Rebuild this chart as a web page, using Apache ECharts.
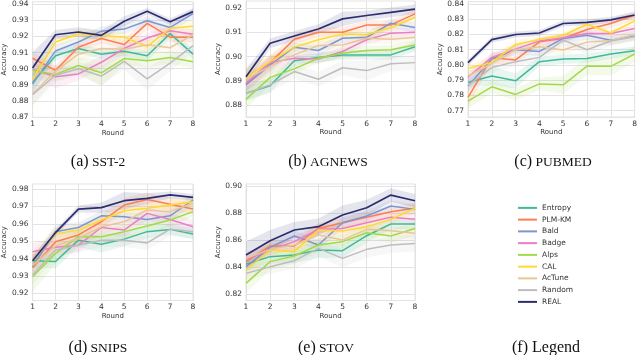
<!DOCTYPE html>
<html>
<head>
<meta charset="utf-8">
<script src="https://cdn.jsdelivr.net/npm/echarts@6/dist/echarts.min.js"></script>
<style>
  html, body { margin: 0; padding: 0; background: #fff; }
  #chart { width: 640px; height: 355px; }
</style>
</head>
<body>
<div id="chart"></div>
<script>
const rounds = ["1", "2", "3", "4", "5", "6", "7", "8"];
const methods = ["Entropy", "PLM-KM", "Bald", "Badge", "Alps", "CAL", "AcTune", "Random", "REAL"];
const colors = ["#40b996", "#fc7e52", "#7f95d0", "#e97fc4", "#a2d94a", "#ffd92f", "#e8c797", "#bdbdbd", "#2c2d6f"];

// mean accuracy per method (same order as methods)
const sst2Mean = [
  [0.8915, 0.908, 0.9125, 0.909, 0.9108, 0.908, 0.9217, 0.909],
  [0.9065, 0.899, 0.9133, 0.9187, 0.915, 0.928, 0.9195, 0.9195],
  [0.8905, 0.911, 0.9165, 0.9232, 0.9245, 0.9297, 0.9255, 0.934],
  [0.8995, 0.895, 0.8968, 0.904, 0.9125, 0.919, 0.9235, 0.9213],
  [0.899, 0.8965, 0.902, 0.8975, 0.9063, 0.905, 0.907, 0.9043],
  [0.8935, 0.9165, 0.9215, 0.9205, 0.9195, 0.9137, 0.925, 0.9262],
  [0.8845, 0.8985, 0.909, 0.9125, 0.912, 0.9148, 0.913, 0.921],
  [0.884, 0.896, 0.9, 0.8955, 0.9045, 0.8937, 0.9035, 0.9143],
  [0.9004, 0.921, 0.9227, 0.9206, 0.9294, 0.9355, 0.929, 0.9353]
];
const sst2Std = [
  [0.006, 0.003, 0.003, 0.003, 0.003, 0.003, 0.003, 0.003],
  [0.004, 0.003, 0.003, 0.003, 0.003, 0.004, 0.003, 0.003],
  [0.006, 0.004, 0.003, 0.003, 0.003, 0.003, 0.003, 0.003],
  [0.004, 0.007, 0.004, 0.004, 0.003, 0.003, 0.003, 0.003],
  [0.004, 0.004, 0.005, 0.008, 0.004, 0.004, 0.004, 0.004],
  [0.005, 0.003, 0.003, 0.003, 0.003, 0.004, 0.003, 0.003],
  [0.007, 0.004, 0.004, 0.004, 0.004, 0.004, 0.004, 0.003],
  [0.007, 0.004, 0.004, 0.006, 0.005, 0.007, 0.005, 0.004],
  [0.010, 0.003, 0.003, 0.003, 0.003, 0.002, 0.002, 0.002]
];

const agnewsMean = [
  [0.8848, 0.8879, 0.8983, 0.8996, 0.9007, 0.9007, 0.9007, 0.9041],
  [0.8885, 0.8975, 0.9072, 0.9101, 0.9101, 0.9131, 0.9131, 0.9177],
  [0.8883, 0.8966, 0.9039, 0.9025, 0.9076, 0.908, 0.9138, 0.912],
  [0.889, 0.8975, 0.8993, 0.899, 0.9021, 0.907, 0.9097, 0.9101],
  [0.8823, 0.8914, 0.8949, 0.8993, 0.9014, 0.9025, 0.9028, 0.9048],
  [0.8913, 0.8979, 0.9039, 0.907, 0.9093, 0.909, 0.912, 0.9163],
  [0.8906, 0.896, 0.9007, 0.9046, 0.9048, 0.9076, 0.9072, 0.9079],
  [0.8848, 0.8883, 0.8938, 0.8906, 0.8954, 0.8942, 0.897, 0.8975],
  [0.8917, 0.9055, 0.9085, 0.9114, 0.9156, 0.917, 0.9183, 0.9196]
];
const agnewsStd = [
  [0.003, 0.003, 0.002, 0.002, 0.002, 0.002, 0.002, 0.002],
  [0.003, 0.003, 0.002, 0.002, 0.002, 0.002, 0.002, 0.002],
  [0.003, 0.003, 0.002, 0.002, 0.002, 0.002, 0.002, 0.002],
  [0.003, 0.003, 0.002, 0.002, 0.002, 0.002, 0.002, 0.002],
  [0.004, 0.003, 0.002, 0.002, 0.002, 0.002, 0.002, 0.002],
  [0.004, 0.003, 0.002, 0.002, 0.002, 0.002, 0.002, 0.002],
  [0.006, 0.004, 0.003, 0.002, 0.002, 0.002, 0.002, 0.002],
  [0.003, 0.003, 0.003, 0.003, 0.003, 0.004, 0.003, 0.003],
  [0.003, 0.002, 0.002, 0.002, 0.003, 0.002, 0.002, 0.002]
];

const pubmedMean = [
  [0.7885, 0.7928, 0.7896, 0.8022, 0.8039, 0.8043, 0.8072, 0.8093],
  [0.7787, 0.8048, 0.8033, 0.8152, 0.8174, 0.8233, 0.8272, 0.8326],
  [0.7863, 0.8039, 0.81, 0.8089, 0.8174, 0.8195, 0.8163, 0.8191],
  [0.792, 0.805, 0.8104, 0.8158, 0.8178, 0.8206, 0.8206, 0.8239],
  [0.7763, 0.7857, 0.7807, 0.7876, 0.787, 0.7993, 0.7991, 0.8072],
  [0.7978, 0.8017, 0.8135, 0.8167, 0.8195, 0.8267, 0.821, 0.8289],
  [0.7928, 0.801, 0.81, 0.812, 0.8098, 0.815, 0.816, 0.82],
  [0.7867, 0.7983, 0.8022, 0.805, 0.8163, 0.81, 0.8157, 0.8185],
  [0.8015, 0.8166, 0.82, 0.821, 0.8272, 0.828, 0.8296, 0.8328]
];
const pubmedStd = [
  [0.003, 0.006, 0.005, 0.003, 0.003, 0.003, 0.003, 0.003],
  [0.006, 0.004, 0.003, 0.003, 0.003, 0.003, 0.003, 0.003],
  [0.004, 0.003, 0.003, 0.003, 0.003, 0.003, 0.003, 0.003],
  [0.003, 0.003, 0.003, 0.002, 0.002, 0.002, 0.002, 0.002],
  [0.005, 0.004, 0.004, 0.004, 0.006, 0.006, 0.006, 0.005],
  [0.003, 0.003, 0.003, 0.002, 0.002, 0.002, 0.002, 0.003],
  [0.004, 0.003, 0.003, 0.003, 0.003, 0.003, 0.003, 0.003],
  [0.004, 0.003, 0.003, 0.003, 0.003, 0.003, 0.003, 0.003],
  [0.002, 0.002, 0.002, 0.002, 0.002, 0.002, 0.002, 0.002]
];

const snipsMean = [
  [0.9388, 0.9383, 0.9506, 0.9483, 0.9512, 0.9555, 0.9568, 0.9541],
  [0.9348, 0.9497, 0.9536, 0.9612, 0.9708, 0.974, 0.9713, 0.9685],
  [0.9354, 0.9555, 0.9579, 0.9646, 0.9641, 0.9625, 0.9646, 0.9737],
  [0.944, 0.9465, 0.9477, 0.9579, 0.9564, 0.966, 0.9625, 0.9583],
  [0.9296, 0.943, 0.9526, 0.9526, 0.9555, 0.9587, 0.9622, 0.967],
  [0.9392, 0.9541, 0.9564, 0.9622, 0.9675, 0.9689, 0.9708, 0.9727],
  [0.936, 0.9473, 0.9516, 0.9583, 0.9612, 0.968, 0.967, 0.9718],
  [0.9306, 0.945, 0.9477, 0.9506, 0.9506, 0.949, 0.957, 0.9555],
  [0.9388, 0.9549, 0.9685, 0.9693, 0.9733, 0.9746, 0.9766, 0.9752]
];
const snipsStd = [
  [0.004, 0.004, 0.004, 0.005, 0.004, 0.004, 0.003, 0.003],
  [0.005, 0.004, 0.003, 0.004, 0.004, 0.004, 0.004, 0.003],
  [0.005, 0.004, 0.003, 0.003, 0.003, 0.003, 0.003, 0.003],
  [0.005, 0.004, 0.004, 0.004, 0.004, 0.004, 0.004, 0.004],
  [0.009, 0.006, 0.004, 0.004, 0.004, 0.004, 0.004, 0.003],
  [0.005, 0.004, 0.003, 0.003, 0.003, 0.003, 0.003, 0.003],
  [0.006, 0.004, 0.004, 0.004, 0.004, 0.004, 0.004, 0.004],
  [0.006, 0.004, 0.004, 0.004, 0.004, 0.004, 0.004, 0.004],
  [0.003, 0.002, 0.002, 0.003, 0.005, 0.003, 0.002, 0.002]
];

const stovMean = [
  [0.842, 0.8477, 0.8489, 0.8526, 0.8521, 0.8632, 0.8719, 0.8719],
  [0.8439, 0.8556, 0.8556, 0.8686, 0.8728, 0.8768, 0.881, 0.8835],
  [0.8402, 0.8546, 0.863, 0.8563, 0.8728, 0.8778, 0.8852, 0.8827],
  [0.8457, 0.8526, 0.8588, 0.8679, 0.8686, 0.8728, 0.8768, 0.8753],
  [0.8279, 0.844, 0.8482, 0.8563, 0.8588, 0.8654, 0.863, 0.8686],
  [0.8378, 0.8526, 0.8514, 0.8674, 0.8667, 0.8699, 0.8753, 0.8835],
  [0.8464, 0.8531, 0.8563, 0.8637, 0.86, 0.8679, 0.8669, 0.865],
  [0.8353, 0.8402, 0.8447, 0.8538, 0.8464, 0.8531, 0.8563, 0.8575],
  [0.8489, 0.8595, 0.8674, 0.8699, 0.8785, 0.8839, 0.8933, 0.8891]
];
const stovStd = [
  [0.005, 0.005, 0.006, 0.006, 0.005, 0.005, 0.004, 0.004],
  [0.005, 0.004, 0.004, 0.004, 0.004, 0.004, 0.004, 0.004],
  [0.005, 0.004, 0.004, 0.004, 0.004, 0.004, 0.004, 0.004],
  [0.005, 0.004, 0.004, 0.004, 0.004, 0.004, 0.004, 0.004],
  [0.007, 0.006, 0.006, 0.005, 0.005, 0.005, 0.005, 0.005],
  [0.006, 0.005, 0.005, 0.004, 0.004, 0.004, 0.004, 0.004],
  [0.005, 0.004, 0.004, 0.004, 0.004, 0.004, 0.004, 0.004],
  [0.005, 0.005, 0.006, 0.006, 0.007, 0.006, 0.006, 0.006],
  [0.010, 0.008, 0.006, 0.006, 0.007, 0.006, 0.005, 0.005]
];

const sst2Ticks = [0.87, 0.88, 0.89, 0.90, 0.91, 0.92, 0.93, 0.94];
const agnewsTicks = [0.88, 0.89, 0.90, 0.91, 0.92];
const pubmedTicks = [0.77, 0.78, 0.79, 0.80, 0.81, 0.82, 0.83, 0.84];
const snipsTicks = [0.92, 0.93, 0.94, 0.95, 0.96, 0.97, 0.98];
const stovTicks = [0.82, 0.84, 0.86, 0.88, 0.90];

// layout of the five panels (pixels) and axis ranges
const panels = [
  { mean: sst2Mean, std: sst2Std, ticks: sst2Ticks, min: 0.87, max: 0.9414, left: 24, top: 1, width: 169, height: 116.3 },
  { mean: agnewsMean, std: agnewsStd, ticks: agnewsTicks, min: 0.875, max: 0.923, left: 246, top: 1, width: 169, height: 116 },
  { mean: pubmedMean, std: pubmedStd, ticks: pubmedTicks, min: 0.7659, max: 0.8415, left: 468, top: 1, width: 170, height: 116 },
  { mean: snipsMean, std: snipsStd, ticks: snipsTicks, min: 0.9159, max: 0.9829, left: 24, top: 184, width: 169, height: 116.5 },
  { mean: stovMean, std: stovStd, ticks: stovTicks, min: 0.8152, max: 0.9015, left: 246, top: 184, width: 169, height: 116.5 }
];

const captions = [
  { lab: "(a)", name: "SST-2", x: 98, y: 162 },
  { lab: "(b)", name: "AGNEWS", x: 328, y: 162 },
  { lab: "(c)", name: "PUBMED", x: 553, y: 162 },
  { lab: "(d)", name: "SNIPS", x: 98, y: 348 },
  { lab: "(e)", name: "STOV", x: 326, y: 348 }
];

const gridColor = "#e3e3e3";
const grids = [], xAxes = [], yAxes = [], series = [];

panels.forEach((p, k) => {
  grids.push({ left: p.left, top: p.top, width: p.width, height: p.height, show: true, borderColor: gridColor, borderWidth: 1, backgroundColor: "#fff" });
  xAxes.push({
    type: "category", gridIndex: k, data: rounds, boundaryGap: false,
    name: "Round", nameLocation: "middle", nameGap: 11,
    nameTextStyle: { fontFamily: "DejaVu Sans", fontSize: 7, color: "#333" },
    axisLine: { show: true, lineStyle: { color: gridColor } },
    axisTick: { show: false },
    axisLabel: { fontFamily: "DejaVu Sans", fontSize: 7.5, color: "#333", margin: 3 },
    splitLine: { show: true, lineStyle: { color: gridColor, width: 1 } }
  });
  yAxes.push({
    type: "value", gridIndex: k, min: p.min, max: p.max,
    name: "Accuracy", nameLocation: "middle", nameGap: 16,
    nameTextStyle: { fontFamily: "DejaVu Sans", fontSize: 7, color: "#333" },
    axisLine: { show: true, lineStyle: { color: gridColor } },
    axisTick: { show: false, customValues: p.ticks },
    axisLabel: { fontFamily: "DejaVu Sans", fontSize: 7.5, color: "#333", margin: 4, customValues: p.ticks, formatter: v => v.toFixed(2) },
    splitLine: { show: true, lineStyle: { color: gridColor, width: 1 } }
  });

  methods.forEach((m, i) => {
    const mean = p.mean[i], std = p.std[i];
    const stackId = "band" + k + "_" + i;
    series.push({
      name: m + " lo", type: "line", xAxisIndex: k, yAxisIndex: k, stack: stackId,
      data: mean.map((v, j) => v - std[j]), symbol: "none", silent: true,
      lineStyle: { opacity: 0 }, z: 1, animation: false
    });
    series.push({
      name: m + " band", type: "line", xAxisIndex: k, yAxisIndex: k, stack: stackId,
      data: std.map(s => 2 * s), symbol: "none", silent: true,
      lineStyle: { opacity: 0 }, areaStyle: { color: colors[i], opacity: 0.12 }, z: 1, animation: false
    });
  });
  methods.forEach((m, i) => {
    series.push({
      name: m, type: "line", xAxisIndex: k, yAxisIndex: k,
      data: p.mean[i], symbol: "none", color: colors[i],
      lineStyle: { color: colors[i], width: i === 8 ? 1.7 : 1.5 }, z: 3, animation: false
    });
  });
});

const graphics = captions.map(c => ({
  type: "text", x: c.x, y: c.y,
  style: {
    text: "{p|" + c.lab + "} {s|" + c.name + "}",
    align: "center", verticalAlign: "middle",
    rich: {
      p: { fontFamily: "Liberation Serif", fontSize: 16, fill: "#111" },
      s: { fontFamily: "Liberation Serif", fontSize: 13.5, fill: "#111" }
    }
  }
}));
graphics.push({
  type: "text", x: 546, y: 348,
  style: { text: "(f) Legend", align: "center", verticalAlign: "middle", fontFamily: "Liberation Serif", fontSize: 16, fill: "#111" }
});

const chart = echarts.init(document.getElementById("chart"), null, { renderer: "canvas" });
chart.setOption({
  backgroundColor: "#fff",
  animation: false,
  grid: grids,
  xAxis: xAxes,
  yAxis: yAxes,
  legend: {
    data: methods, orient: "vertical", left: 513, top: 197,
    icon: "rect", itemWidth: 19, itemHeight: 2, itemGap: 0,
    textStyle: { fontFamily: "DejaVu Sans", fontSize: 7.5, color: "#333", lineHeight: 11.75 }
  },
  graphic: graphics,
  series: series
});
</script>
</body>
</html>
